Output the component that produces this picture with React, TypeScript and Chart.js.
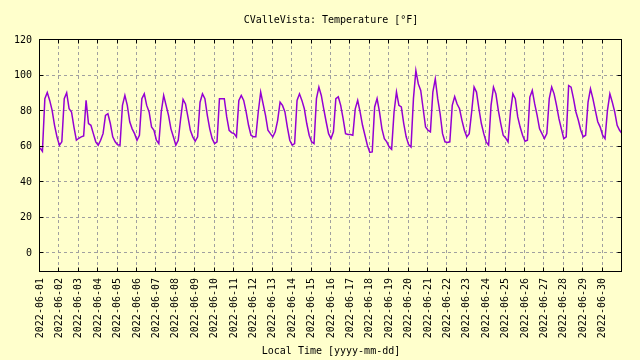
import { useEffect, useRef } from "react";
import { Chart, registerables } from "chart.js";

Chart.register(...registerables);

const TITLE = "CValleVista: Temperature [°F]";
const X_TITLE = "Local Time [yyyy-mm-dd]";

const dayLabels = [
  "2022-06-01", "2022-06-02", "2022-06-03", "2022-06-04", "2022-06-05",
  "2022-06-06", "2022-06-07", "2022-06-08", "2022-06-09", "2022-06-10",
  "2022-06-11", "2022-06-12", "2022-06-13", "2022-06-14", "2022-06-15",
  "2022-06-16", "2022-06-17", "2022-06-18", "2022-06-19", "2022-06-20",
  "2022-06-21", "2022-06-22", "2022-06-23", "2022-06-24", "2022-06-25",
  "2022-06-26", "2022-06-27", "2022-06-28", "2022-06-29", "2022-06-30",
];

const yTickValues = [0, 20, 40, 60, 80, 100, 120];
const yMin = -10;
const yMax = 120;
const xMaxDays = 30;

// 8 readings per day (every 3 hours), °F
const samplesPerDay = 8;
const temperatureF = [
  59.3, 57.4, 87, 90.5, 86, 80.4, 72, 65.5, // 06-01
  60.8, 62.7, 87, 90.3, 81.3, 79.5, 71, 63.6, // 06-02
  64.7, 65.5, 66, 86, 73, 72, 67.3, 62.7, // 06-03
  60.8, 63.6, 67.3, 77.6, 78.5, 73, 65.5, 62.7, // 06-04
  61, 60.8, 83.2, 88.8, 83.2, 74, 70, 67.3, // 06-05
  63.6, 66.4, 87, 89.7, 83.2, 79.5, 71, 69.2, // 06-06
  63.6, 61.7, 79.5, 88.8, 83.2, 77.6, 70, 65.5, // 06-07
  60.8, 63.6, 75.7, 86.6, 84, 76.7, 69.2, 65.5, // 06-08
  63, 65.5, 85, 89.7, 87, 77.6, 70, 64.5, // 06-09
  61.7, 62.7, 87, 87, 87, 76.7, 69.2, 67.9, // 06-10
  67.3, 65.5, 86, 88.8, 86, 79.5, 72, 66.4, // 06-11
  65.5, 65.5, 79.5, 90.7, 84, 77.6, 69.2, 67.3, // 06-12
  65.5, 68.3, 74.8, 85, 83.2, 79.5, 71, 63.6, // 06-13
  60.8, 61.7, 86, 89.7, 86, 81.3, 73, 66.4, // 06-14
  62.7, 61.7, 87, 93.5, 88.8, 81.3, 74, 67.3, // 06-15
  64.5, 68.3, 87, 88, 83.2, 75.7, 67.3, 66.8, // 06-16
  66.8, 66.4, 81.3, 86, 79.5, 72, 66.4, 60.8, // 06-17
  56.7, 57, 82.3, 87, 79.5, 70, 64.5, 62.7, // 06-18
  59.8, 58.5, 79.5, 90.7, 83.2, 82.3, 73, 65.5, // 06-19
  61.1, 59.8, 87, 102.8, 95.3, 91.6, 81.3, 71, // 06-20
  69.2, 68.3, 90.7, 98.1, 87, 78.5, 67.3, 62.7, // 06-21
  62.3, 62.7, 83.2, 88.2, 84, 81.3, 74.8, 69.2, // 06-22
  65.5, 67.3, 79.5, 93.5, 90.7, 81.3, 73, 67.3, // 06-23
  62.7, 60.8, 83.2, 93.5, 89.7, 80.4, 73, 66.4, // 06-24
  64.9, 62.7, 79.5, 89.7, 87, 76.7, 71, 66.4, // 06-25
  63, 63.6, 87.9, 91.6, 84, 77.6, 70, 67.3, // 06-26
  64.5, 67.3, 87, 93.5, 89.7, 83.2, 75.7, 70, // 06-27
  64.5, 65.5, 94.4, 93.5, 87, 79.5, 74.8, 69.2, // 06-28
  65.5, 66.4, 85, 92.5, 87, 80.4, 74, 71, // 06-29
  66.4, 64.5, 80.4, 89.7, 85, 79.5, 72, 69.2, // 06-30
  67.3, // 07-01 00:00
];

const FONT_FAMILY = '"DejaVu Sans Mono", "Liberation Mono", monospace';
const BG = "#FFFFCC";
const LINE_COLOR = "#9400D3";
const GRID_COLOR = "#A0A0A0";

const framePlugin = {
  id: "framePlugin",
  beforeDraw(chart: any) {
    const ctx = chart.ctx;
    ctx.save();
    ctx.fillStyle = BG;
    ctx.fillRect(0, 0, chart.width, chart.height);
    ctx.restore();
  },
  beforeDatasetsDraw(chart: any) {
    const { ctx, chartArea, scales } = chart;
    const { left, right, top, bottom } = chartArea;
    ctx.save();
    ctx.strokeStyle = GRID_COLOR;
    ctx.lineWidth = 1;
    ctx.setLineDash([3, 3]);
    for (let d = 1; d < dayLabels.length; d++) {
      const px = Math.round(scales.x.getPixelForValue(d)) - 0.5;
      ctx.beginPath();
      ctx.moveTo(px, top);
      ctx.lineTo(px, bottom);
      ctx.stroke();
    }
    for (const v of yTickValues) {
      if (v === yMax) continue;
      const py = Math.round(scales.y.getPixelForValue(v)) - 0.5;
      ctx.beginPath();
      ctx.moveTo(left, py);
      ctx.lineTo(right, py);
      ctx.stroke();
    }
    ctx.restore();
  },
  afterDraw(chart: any) {
    const { ctx, chartArea, scales } = chart;
    const { left, right, top, bottom } = chartArea;
    const L = Math.round(left) - 0.5;
    const R = Math.round(right) - 0.5;
    const T = Math.round(top) - 0.5;
    const B = Math.round(bottom) + 0.5;
    ctx.save();
    ctx.strokeStyle = "#000";
    ctx.lineWidth = 1;
    ctx.setLineDash([]);
    ctx.strokeRect(L, T, R - L, B - T);
    const tick = 4;
    ctx.beginPath();
    for (let d = 0; d < dayLabels.length; d++) {
      const px = Math.round(scales.x.getPixelForValue(d)) - 0.5;
      ctx.moveTo(px, B);
      ctx.lineTo(px, B - tick);
      ctx.moveTo(px, T);
      ctx.lineTo(px, T + tick);
    }
    for (const v of yTickValues) {
      const py = Math.round(scales.y.getPixelForValue(v)) - 0.5;
      ctx.moveTo(L, py);
      ctx.lineTo(L + tick, py);
      ctx.moveTo(R, py);
      ctx.lineTo(R - tick, py);
    }
    ctx.stroke();

    ctx.fillStyle = "#000";
    ctx.font = `10px ${FONT_FAMILY}`;
    ctx.textAlign = "center";
    ctx.textBaseline = "middle";
    const cx = (left + right) / 2;
    ctx.fillText(TITLE, cx, 20);
    ctx.fillText(X_TITLE, cx, 351);
    ctx.restore();
  },
};

export default function App() {
  const ref = useRef<HTMLCanvasElement>(null);

  useEffect(() => {
    document.body.style.margin = "0";
    document.body.style.background = BG;
    const canvas = ref.current;
    if (!canvas) return;
    const points = temperatureF.map((v, i) => ({ x: i / samplesPerDay, y: v }));
    const chart = new Chart(canvas, {
      type: "line",
      data: {
        datasets: [
          {
            data: points,
            borderColor: LINE_COLOR,
            borderWidth: 1.5,
            pointRadius: 0,
            tension: 0,
            fill: false,
          },
        ],
      },
      options: {
        responsive: false,
        animation: false,
        events: [],
        layout: { padding: { left: 0, right: 18, top: 40, bottom: 0 } },
        plugins: {
          legend: { display: false },
          title: { display: false },
          tooltip: { enabled: false },
        },
        scales: {
          x: {
            type: "linear",
            min: 0,
            max: xMaxDays,
            grid: { display: false, drawTicks: false },
            border: { display: false },
            afterBuildTicks: (scale: any) => {
              scale.ticks = dayLabels.map((_, i) => ({ value: i }));
            },
            afterFit: (scale: any) => {
              scale.height = 89;
            },
            ticks: {
              autoSkip: false,
              minRotation: 90,
              maxRotation: 90,
              padding: 7,
              color: "#000",
              font: { family: FONT_FAMILY, size: 10 },
              callback: (value: any) => dayLabels[value] ?? "",
            },
          },
          y: {
            type: "linear",
            min: yMin,
            max: yMax,
            grid: { display: false, drawTicks: false },
            border: { display: false },
            afterBuildTicks: (scale: any) => {
              scale.ticks = yTickValues.map((v) => ({ value: v }));
            },
            afterFit: (scale: any) => {
              scale.width = 40;
            },
            ticks: {
              padding: 8,
              color: "#000",
              font: { family: FONT_FAMILY, size: 10 },
              callback: (value: any) => String(value),
            },
          },
        },
      },
      plugins: [framePlugin],
    });
    return () => chart.destroy();
  }, []);

  return (
    <div style={{ width: 640, height: 360 }}>
      <canvas ref={ref} width={640} height={360} style={{ display: "block", width: 640, height: 360 }} />
    </div>
  );
}
